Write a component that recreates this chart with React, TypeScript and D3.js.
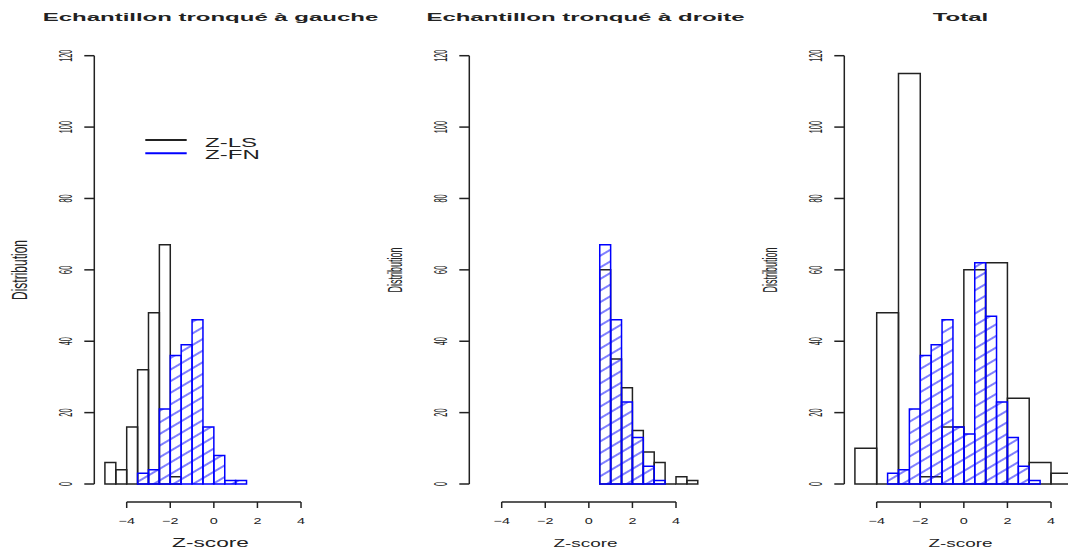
import React from 'react';
import * as d3 from 'd3';

// ---- data ----
const panelTitles = ['Echantillon tronqué à gauche', 'Echantillon tronqué à droite', 'Total'];
const yTicks = [0, 20, 40, 60, 80, 100, 120];
const xTicks = [-4, -2, 0, 2, 4];

// Z-LS (black) histograms
const lsLeftStart = -5;
const lsLeftWidth = 0.5;
const lsLeftCounts = [6, 4, 16, 32, 48, 67, 2];
const lsRightStart = 0.5;
const lsRightWidth = 0.5;
const lsRightCounts = [60, 35, 27, 15, 9, 6, 0, 2, 1];
const lsTotalStart = -5;
const lsTotalWidth = 1;
const lsTotalCounts = [10, 48, 115, 2, 16, 60, 62, 24, 6, 3];

// Z-FN (blue, hatched) histograms
const fnLeftStart = -3.5;
const fnLeftWidth = 0.5;
const fnLeftCounts = [3, 4, 21, 36, 39, 46, 16, 8, 1, 1];
const fnRightStart = 0.5;
const fnRightWidth = 0.5;
const fnRightCounts = [67, 46, 23, 13, 5, 1];
const fnTotalStart = -3.5;
const fnTotalWidth = 0.5;
const fnTotalCounts = [3, 4, 21, 36, 39, 46, 16, 14, 62, 47, 23, 13, 5, 1];

const legendLabels = ['Z-LS', 'Z-FN'];

// ---- layout ----
const W = 1068;
const H = 550;
const panelOffset = 375;
const FONT = "'Liberation Sans', Arial, Helvetica, sans-serif";
const INK = '#222';
const BLUE = '#0000ff';

function SText({ x, y, sx = 1, sy = 1, rot = 0, size, weight = 'normal', anchor = 'middle', baseline = 'auto', children }: any) {
  const t = `translate(${x},${y}) scale(${sx},${sy})${rot ? ` rotate(${rot})` : ''}`;
  return (
    <text transform={t} fontSize={size} fontWeight={weight} textAnchor={anchor}
      dominantBaseline={baseline} fill={INK} fontFamily={FONT}>{children}</text>
  );
}

function barsPath(xs: any, ys: any, start: number, width: number, counts: number[]) {
  return counts.map((c, i) => {
    const x0 = xs(start + i * width);
    const x1 = xs(start + (i + 1) * width);
    const p = d3.path();
    p.moveTo(x0, ys(0));
    p.lineTo(x0, ys(c));
    p.lineTo(x1, ys(c));
    p.lineTo(x1, ys(0));
    p.closePath();
    return p.toString();
  });
}

function Panel({ idx, title, ls, fn, big }: any) {
  const off = idx * panelOffset;
  const xs = d3.scaleLinear().domain([-4, 4]).range([126.7 + off, 301 + off]);
  const ys = d3.scaleLinear().domain([0, 120]).range([484, 55.7]);
  const axisX = 94.3 + off;
  const axisY = 502;
  const cx = 210.5 + off;
  const lsPaths = barsPath(xs, ys, ls.start, ls.width, ls.counts);
  const fnPaths = barsPath(xs, ys, fn.start, fn.width, fn.counts);
  return (
    <g>
      {/* title */}
      <SText x={cx} y={21} sx={2.18} size={11} weight="bold">{title}</SText>
      {/* y axis */}
      <line x1={axisX} x2={axisX} y1={ys(0)} y2={ys(120)} stroke={INK} strokeWidth={1.5} />
      {yTicks.map(t => (
        <g key={t}>
          <line x1={axisX - 10} x2={axisX} y1={ys(t)} y2={ys(t)} stroke={INK} strokeWidth={1.5} />
          <SText x={65 + off} y={ys(t)} sx={2.4} sy={0.92} rot={-90} size={8} baseline="central">{t}</SText>
        </g>
      ))}
      <SText x={20 + off} y={270} sx={big ? 1.86 : 2.3} rot={-90} size={big ? 12 : 9} baseline="central">Distribution</SText>
      {/* x axis */}
      <line x1={xs(-4)} x2={xs(4)} y1={axisY} y2={axisY} stroke={INK} strokeWidth={1.5} />
      {xTicks.map(t => (
        <g key={t}>
          <line x1={xs(t)} x2={xs(t)} y1={axisY} y2={axisY + 6} stroke={INK} strokeWidth={1.5} />
          <SText x={xs(t)} y={524} sx={1.6} size={9}>{t < 0 ? `\u2212${-t}` : `${t}`}</SText>
        </g>
      ))}
      <SText x={cx} y={546.5} sx={1.89} size={big ? 12 : 10}>Z-score</SText>
      {/* bars */}
      {lsPaths.map((d, i) => (
        <path key={'ls' + i} d={d} fill="none" stroke={INK} strokeWidth={1.5} />
      ))}
      {fnPaths.map((d, i) => (
        <path key={'fn' + i} d={d} fill="url(#hatch)" stroke={BLUE} strokeWidth={1.5} />
      ))}
    </g>
  );
}

export default function App() {
  const panels = [
    { ls: { start: lsLeftStart, width: lsLeftWidth, counts: lsLeftCounts }, fn: { start: fnLeftStart, width: fnLeftWidth, counts: fnLeftCounts } },
    { ls: { start: lsRightStart, width: lsRightWidth, counts: lsRightCounts }, fn: { start: fnRightStart, width: fnRightWidth, counts: fnRightCounts } },
    { ls: { start: lsTotalStart, width: lsTotalWidth, counts: lsTotalCounts }, fn: { start: fnTotalStart, width: fnTotalWidth, counts: fnTotalCounts } },
  ];
  return (
    <svg width={W} height={H} style={{ position: 'absolute', left: 0, top: 0, background: '#fff' }}>
      <defs>
        <pattern id="hatch" patternUnits="userSpaceOnUse" width={10} height={10} patternTransform="rotate(-30.5)">
          <line x1={-1} y1={5} x2={11} y2={5} stroke={BLUE} strokeWidth={1} />
        </pattern>
      </defs>
      <rect x={0} y={0} width={W} height={H} fill="#fff" />
      {panels.map((p, i) => (
        <Panel key={i} idx={i} title={panelTitles[i]} ls={p.ls} fn={p.fn} big={i === 0} />
      ))}
      {/* legend */}
      <line x1={145.3} x2={186.7} y1={140} y2={140} stroke={INK} strokeWidth={2} />
      <line x1={145.3} x2={186.7} y1={153.3} y2={153.3} stroke={BLUE} strokeWidth={2} />
      <SText x={205} y={146.5} sx={1.85} size={13} anchor="start">{legendLabels[0]}</SText>
      <SText x={205} y={159} sx={1.85} size={13} anchor="start">{legendLabels[1]}</SText>
    </svg>
  );
}
